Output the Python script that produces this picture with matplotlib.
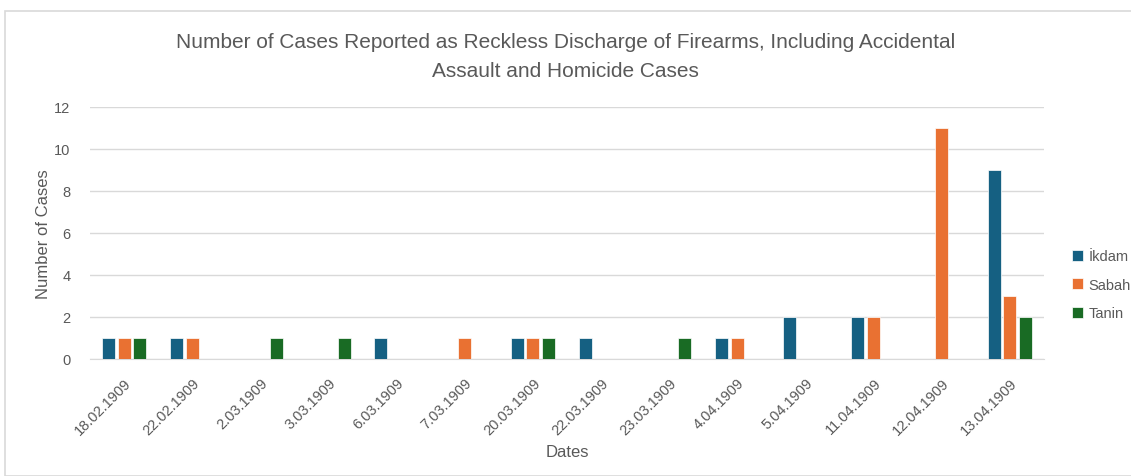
import matplotlib.pyplot as plt
import numpy as np
from matplotlib.patches import Rectangle

dates = ['18.02.1909', '22.02.1909', '2.03.1909', '3.03.1909', '6.03.1909', '7.03.1909',
         '20.03.1909', '22.03.1909', '23.03.1909', '4.04.1909', '5.04.1909', '11.04.1909',
         '12.04.1909', '13.04.1909']
ikdam = [1, 1, 0, 0, 1, 0, 1, 1, 0, 1, 2, 2, 0, 9]
sabah = [1, 1, 0, 0, 0, 1, 1, 0, 0, 1, 0, 2, 11, 3]
tanin = [1, 0, 1, 1, 0, 0, 1, 0, 1, 0, 0, 0, 0, 2]

series = [('İkdam', ikdam, '#156082'), ('Sabah', sabah, '#E97132'), ('Tanin', tanin, '#196B24')]
gray = '#595959'
plt.rcParams['font.family'] = ['Liberation Sans', 'DejaVu Sans']

fig = plt.figure(figsize=(11.31, 4.77), dpi=100)
fig.patches.append(Rectangle((5 / 1131, 0), 1.0, (477 - 12) / 477, transform=fig.transFigure,
                             fill=False, edgecolor='#d9d9d9', linewidth=1.2))
ax = fig.add_axes([90 / 1131, 117 / 477, 954 / 1131, 252 / 477])

x = np.arange(len(dates))
w = 0.19
for i, (name, vals, col) in enumerate(series):
    ax.bar(x + (i - 1) * 0.23, vals, width=w, color=col, label=name,
           edgecolor='white', linewidth=0.5, zorder=3)

ax.set_xlim(-0.5, len(dates) - 0.5)
ax.set_ylim(0, 12)
ax.set_yticks(range(0, 13, 2))
ax.grid(axis='y', color='#d9d9d9', linewidth=1, zorder=0)
for s in ['top', 'right', 'left']:
    ax.spines[s].set_visible(False)
ax.spines['bottom'].set_color('#d9d9d9')
ax.tick_params(axis='both', length=0, colors=gray, labelsize=10.5)
ax.set_xticks(x)
ax.set_xticklabels(dates, rotation=45, ha='right', rotation_mode='anchor')
ax.tick_params(axis='x', pad=12)
ax.tick_params(axis='y', pad=14)

ax.set_xlabel('Dates', color=gray, fontsize=12, labelpad=5)
ax.set_ylabel('Number of Cases', color=gray, fontsize=12, labelpad=2)

fig.text(0.5, (477 - 57) / 477,
         'Number of Cases Reported as Reckless Discharge of Firearms, Including Accidental\nAssault and Homicide Cases',
         ha='center', va='center', fontsize=15, color=gray, linespacing=1.65)

ax.legend(loc='center left', bbox_to_anchor=(1.022, 0.294), frameon=False, fontsize=10.5,
          labelcolor=gray, handlelength=0.75, handleheight=0.75, handletextpad=0.35,
          labelspacing=1.0, borderpad=0)

fig.savefig('out.png', dpi=100)
